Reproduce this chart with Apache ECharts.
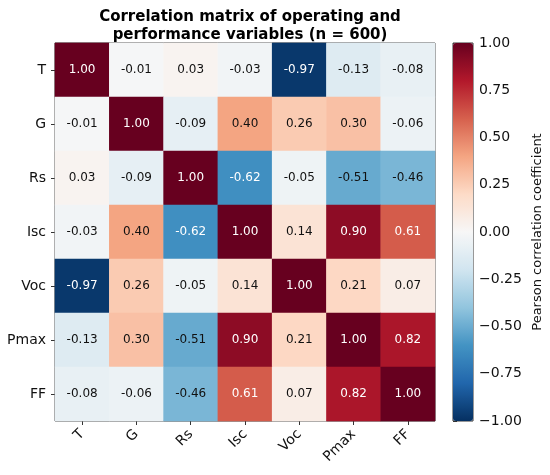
<!DOCTYPE html>
<html>
<head>
<meta charset="utf-8">
<script src="https://cdn.jsdelivr.net/npm/echarts@6/dist/echarts.min.js"></script>
<style>
  html, body { margin: 0; padding: 0; background: #fff; }
  #chart { width: 550px; height: 475px; }
</style>
</head>
<body>
<div id="chart"></div>
<script>
// variables on both axes
const variables = ['T', 'G', 'Rs', 'Isc', 'Voc', 'Pmax', 'FF'];

// correlation rows (same order as variables)
const rowT    = [1.00, -0.01, 0.03, -0.03, -0.97, -0.13, -0.08];
const rowG    = [-0.01, 1.00, -0.09, 0.40, 0.26, 0.30, -0.06];
const rowRs   = [0.03, -0.09, 1.00, -0.62, -0.05, -0.51, -0.46];
const rowIsc  = [-0.03, 0.40, -0.62, 1.00, 0.14, 0.90, 0.61];
const rowVoc  = [-0.97, 0.26, -0.05, 0.14, 1.00, 0.21, 0.07];
const rowPmax = [-0.13, 0.30, -0.51, 0.90, 0.21, 1.00, 0.82];
const rowFF   = [-0.08, -0.06, -0.46, 0.61, 0.07, 0.82, 1.00];

// colorbar ticks
const colorbarTicks = [-1.00, -0.75, -0.50, -0.25, 0.00, 0.25, 0.50, 0.75, 1.00];

const rows = [rowT, rowG, rowRs, rowIsc, rowVoc, rowPmax, rowFF];

// RdBu_r
const rdbu = ['#053061', '#2166ac', '#4393c3', '#92c5de', '#d1e5f0', '#f7f7f7',
              '#fddbc7', '#f4a582', '#d6604d', '#b2182b', '#67001f'];

const cells = [];
rows.forEach((row, y) => {
  row.forEach((v, x) => {
    cells.push({
      value: [x, y, v],
      label: { color: Math.abs(v) > 0.55 ? '#ffffff' : '#111111' }
    });
  });
});

const fmt = v => {
  const s = Math.abs(v).toFixed(2);
  return v < -1e-9 ? '\u2212' + s : s;
};

const chart = echarts.init(document.getElementById('chart'));

chart.setOption({
  animation: false,
  textStyle: { fontFamily: 'DejaVu Sans' },
  title: {
    text: 'Correlation matrix of operating and\nperformance variables (n = 600)',
    left: 245,
    top: 3,
    textAlign: 'center',
    textStyle: { fontSize: 15, fontWeight: 'bold', color: '#000', lineHeight: 18, fontFamily: 'DejaVu Sans' }
  },
  grid: [
    { left: 55, top: 43, width: 380, height: 378, show: true, borderColor: '#333', borderWidth: 1, backgroundColor: 'transparent' },
    { left: 453, top: 43, width: 20, height: 378, show: true, borderColor: '#333', borderWidth: 1, backgroundColor: 'transparent' }
  ],
  xAxis: [
    {
      type: 'category', gridIndex: 0, data: variables, position: 'bottom',
      axisLine: { show: false },
      splitLine: { show: false },
      axisTick: { show: true, alignWithLabel: true, length: 4, lineStyle: { color: '#333' } },
      axisLabel: { rotate: 45, fontSize: 14, color: '#111', margin: 11, interval: 0 }
    },
    {
      type: 'value', gridIndex: 1, show: false, min: 0, max: 1
    }
  ],
  yAxis: [
    {
      type: 'category', gridIndex: 0, data: variables, inverse: true,
      axisLine: { show: false },
      splitLine: { show: false },
      axisTick: { show: true, alignWithLabel: true, length: 4, lineStyle: { color: '#333' } },
      axisLabel: { fontSize: 14, color: '#111', margin: 9, interval: 0 }
    },
    {
      type: 'value', gridIndex: 1, position: 'right',
      min: colorbarTicks[0], max: colorbarTicks[colorbarTicks.length - 1], interval: 0.25,
      axisLine: { show: false },
      splitLine: { show: false },
      axisTick: { show: true, length: 4, lineStyle: { color: '#333' } },
      axisLabel: { fontSize: 14, color: '#111', margin: 6, formatter: fmt },
      name: 'Pearson correlation coefficient',
      nameLocation: 'middle',
      nameRotate: 90,
      nameGap: 58,
      nameTextStyle: { fontSize: 13, color: '#111' }
    }
  ],
  visualMap: {
    type: 'continuous',
    seriesIndex: 0,
    min: -1,
    max: 1,
    calculable: false,
    show: true,
    orient: 'vertical',
    left: 453,
    top: 43,
    itemWidth: 20,
    itemHeight: 378,
    text: ['', ''],
    showLabel: false,
    padding: 0,
    inRange: { color: rdbu }
  },
  series: [
    {
      type: 'heatmap',
      xAxisIndex: 0,
      yAxisIndex: 0,
      data: cells,
      label: {
        show: true,
        fontSize: 12,
        formatter: p => p.value[2].toFixed(2)
      },
      itemStyle: { borderWidth: 0 },
      emphasis: { disabled: true }
    }
  ]
});
</script>
</body>
</html>
